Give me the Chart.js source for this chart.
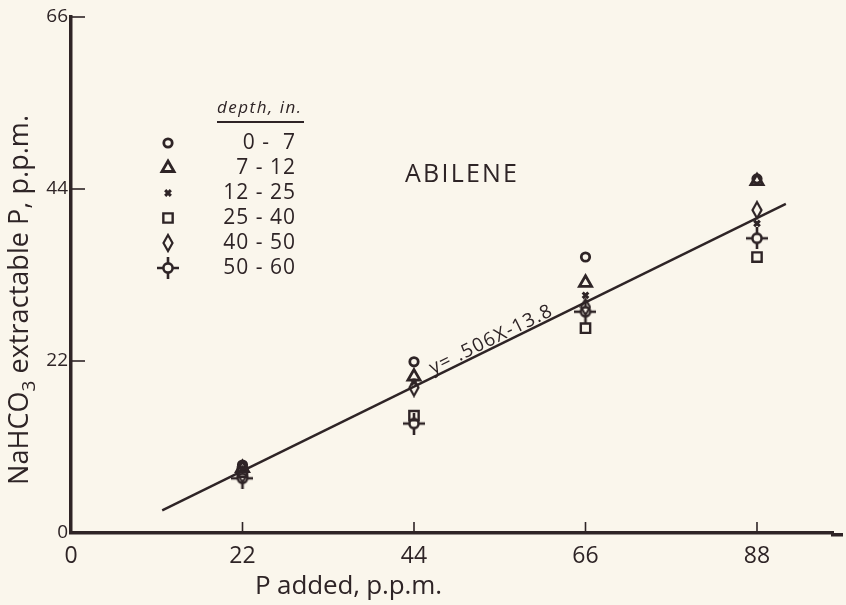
<!DOCTYPE html>
<html>
<head>
<meta charset="utf-8">
<script src="https://cdn.jsdelivr.net/npm/chart.js@4"></script>
<style>
  html, body { margin: 0; padding: 0; background: #faf6ec; }
  #wrap { width: 846px; height: 605px; }
</style>
</head>
<body>
<div id="wrap"><canvas id="chart" width="846" height="605"></canvas></div>
<script>
// values
const pAdded = [22, 44, 66, 88];
const depthLabels = ['0 -  7', '7 - 12', '12 - 25', '25 - 40', '40 - 50', '50 - 60'];
const depth0to7 = [8.7, 21.9, 35.3, 45.3];
const depth7to12 = [8.3, 20.0, 32.0, 45.0];
const depth12to25 = [8.1, 19.3, 30.4, 39.6];
const depth25to40 = [7.8, 15.0, 26.2, 35.3];
const depth40to50 = [7.5, 18.6, 28.9, 41.3];
const depth50to60 = [7.0, 14.0, 28.3, 37.7];
const fitX = [11.7, 91.7];
const fitY = [2.9, 42.1];
const yTicks = [0, 22, 44, 66];
const xTicks = [0, 22, 44, 66, 88];

const ink = '#2e2426';
const font = '"Open Sans", Lato, sans-serif';

// custom marks for the tall diamond and the circle with spokes
function diamondMark() {
    const c = document.createElement('canvas');
    c.width = 12; c.height = 20;
    const g = c.getContext('2d');
    g.strokeStyle = ink; g.lineWidth = 2.2;
    g.beginPath();
    g.moveTo(6, 2); g.lineTo(10.5, 10); g.lineTo(6, 18); g.lineTo(1.5, 10);
    g.closePath(); g.stroke();
    return c;
}
function spokeMark() {
    const c = document.createElement('canvas');
    c.width = 22; c.height = 22;
    const g = c.getContext('2d');
    g.strokeStyle = ink; g.lineWidth = 2.6;
    g.beginPath(); g.arc(11, 11, 4.6, 0, Math.PI * 2); g.stroke();
    g.beginPath();
    g.moveTo(0, 11); g.lineTo(6.5, 11);
    g.moveTo(15.5, 11); g.lineTo(22, 11);
    g.moveTo(11, 0); g.lineTo(11, 6.5);
    g.moveTo(11, 15.5); g.lineTo(11, 22);
    g.stroke();
    return c;
}

function pts(ys) { return pAdded.map((x, i) => ({x: x, y: ys[i]})); }

const markStyles = [
    {pointStyle: 'circle', radius: 4.2, borderWidth: 2.8},
    {pointStyle: 'triangle', radius: 7, borderWidth: 2.8},
    {pointStyle: 'crossRot', radius: 4, borderWidth: 3},
    {pointStyle: 'rect', radius: 6.6, borderWidth: 2.4},
    {pointStyle: diamondMark(), radius: 8, borderWidth: 2},
    {pointStyle: spokeMark(), radius: 11, borderWidth: 2}
];
const series = [depth0to7, depth7to12, depth12to25, depth25to40, depth40to50, depth50to60];

const datasets = series.map((ys, i) => ({
    type: 'scatter',
    label: depthLabels[i],
    data: pts(ys),
    pointStyle: markStyles[i].pointStyle,
    pointRadius: markStyles[i].radius,
    pointBorderWidth: markStyles[i].borderWidth,
    pointBorderColor: ink,
    pointBackgroundColor: 'rgba(0,0,0,0)',
    order: 1
}));
datasets.push({
    type: 'line',
    label: 'fit',
    data: fitX.map((x, i) => ({x: x, y: fitY[i]})),
    borderColor: ink,
    borderWidth: 2.4,
    pointRadius: 0,
    order: 2
});

// text stretched to a given width with letter spacing
function spaced(ctx, text, x, y, width) {
    ctx.letterSpacing = '0px';
    const w0 = ctx.measureText(text).width;
    const sp = (width - w0) / Math.max(1, text.length - 1);
    ctx.letterSpacing = sp + 'px';
    ctx.fillText(text, x, y);
    ctx.letterSpacing = '0px';
}

// inward ticks, legend, titles and equation
const decor = {
    id: 'decor',
    afterDraw(chart) {
        const ctx = chart.ctx;
        const xs = chart.scales.x, ys = chart.scales.y;
        const area = chart.chartArea;
        ctx.save();
        ctx.strokeStyle = ink; ctx.fillStyle = ink;
        // x axis line runs on to the page edge
        ctx.lineWidth = 3.5;
        ctx.beginPath(); ctx.moveTo(area.right - 2, area.bottom + 1.75); ctx.lineTo(843, area.bottom + 1.75); ctx.stroke();
        ctx.lineWidth = 1.6;
        // y ticks pointing into the plot
        yTicks.slice(1).forEach(v => {
            const py = ys.getPixelForValue(v);
            ctx.beginPath(); ctx.moveTo(area.left, py); ctx.lineTo(area.left + 14, py); ctx.stroke();
        });
        // x ticks pointing up
        xTicks.slice(1).forEach(v => {
            const px = xs.getPixelForValue(v);
            ctx.beginPath(); ctx.moveTo(px, area.bottom); ctx.lineTo(px, area.bottom - 11); ctx.stroke();
        });

        // legend
        ctx.font = 'italic 17px ' + font;
        ctx.textAlign = 'left'; ctx.textBaseline = 'alphabetic';
        spaced(ctx, 'depth, in.', 217, 113, 84);
        ctx.lineWidth = 2.2;
        ctx.beginPath(); ctx.moveTo(217, 122); ctx.lineTo(304, 122); ctx.stroke();
        depthLabels.forEach((lab, i) => {
            const y = 143 + i * 25;
            const m = markStyles[i];
            ctx.save();
            ctx.fillStyle = 'rgba(0,0,0,0)';
            ctx.strokeStyle = ink;
            ctx.lineWidth = m.borderWidth;
            Chart.helpers.drawPoint(ctx, {
                pointStyle: m.pointStyle, radius: m.radius, borderWidth: m.borderWidth, rotation: 0
            }, 168, y);
            ctx.restore();
            ctx.font = '21px ' + font;
            ctx.textAlign = 'right'; ctx.textBaseline = 'middle';
            ctx.letterSpacing = '1px';
            ctx.fillText(lab, 296, y);
            ctx.letterSpacing = '0px';
        });

        // ABILENE
        ctx.font = '25px ' + font;
        ctx.textAlign = 'left'; ctx.textBaseline = 'alphabetic';
        spaced(ctx, 'ABILENE', 405, 182, 112);

        // equation along the line
        const x0 = xs.getPixelForValue(fitX[0]), y0 = ys.getPixelForValue(fitY[0]);
        const x1 = xs.getPixelForValue(fitX[1]), y1 = ys.getPixelForValue(fitY[1]);
        const ang = Math.atan2(y1 - y0, x1 - x0);
        const ex = 433;
        const ey = y0 + (ex - x0) * (y1 - y0) / (x1 - x0) - 3;
        ctx.save();
        ctx.translate(ex, ey); ctx.rotate(ang);
        ctx.font = '19px ' + font;
        ctx.textAlign = 'left'; ctx.textBaseline = 'alphabetic';
        spaced(ctx, 'y= .506X-13.8', 0, 0, 134);
        ctx.restore();

        // x title
        ctx.font = '26px ' + font;
        ctx.textAlign = 'left'; ctx.textBaseline = 'alphabetic';
        spaced(ctx, 'P added, p.p.m.', 255, 594, 187);

        // y title with subscript
        ctx.save();
        ctx.translate(28, 300); ctx.rotate(-Math.PI / 2);
        ctx.textBaseline = 'alphabetic'; ctx.textAlign = 'left';
        const big = '27px ' + font, small = '19px ' + font;
        const parts = [['NaHCO', big, 0], ['3', small, 7], [' extractable P, p.p.m.', big, 0]];
        let w = 0, n = 0;
        parts.forEach(p => { ctx.font = p[1]; w += ctx.measureText(p[0]).width; n += p[0].length; });
        const sp = (370 - w) / (n - 1);
        ctx.letterSpacing = sp + 'px';
        let cx = -185;
        parts.forEach(p => {
            ctx.font = p[1];
            ctx.fillText(p[0], cx, p[2]);
            cx += ctx.measureText(p[0]).width;
        });
        ctx.restore();

        ctx.restore();
    }
};

const chart = new Chart(document.getElementById('chart').getContext('2d'), {
    data: {datasets: datasets},
    options: {
        responsive: false,
        animation: false,
        events: [],
        layout: {padding: {top: 17, right: 4, left: 0, bottom: 0}},
        plugins: {legend: {display: false}, tooltip: {enabled: false}},
        scales: {
            x: {
                type: 'linear',
                min: 0, max: 97.75,
                afterBuildTicks: s => { s.ticks = xTicks.map(v => ({value: v})); },
                afterFit: s => { s.height = 72; },
                grid: {display: false, drawTicks: false},
                border: {color: ink, width: 3.5},
                ticks: {color: ink, font: {family: font, size: 23}, padding: 10, maxRotation: 0}
            },
            y: {
                type: 'linear',
                min: 0, max: 66,
                afterBuildTicks: s => { s.ticks = yTicks.map(v => ({value: v})); },
                afterFit: s => { s.width = 71; },
                grid: {display: false, drawTicks: false},
                border: {color: ink, width: 3.5},
                ticks: {color: ink, font: {family: font, size: 19}, padding: 3}
            }
        }
    },
    plugins: [decor]
});
</script>
</body>
</html>
